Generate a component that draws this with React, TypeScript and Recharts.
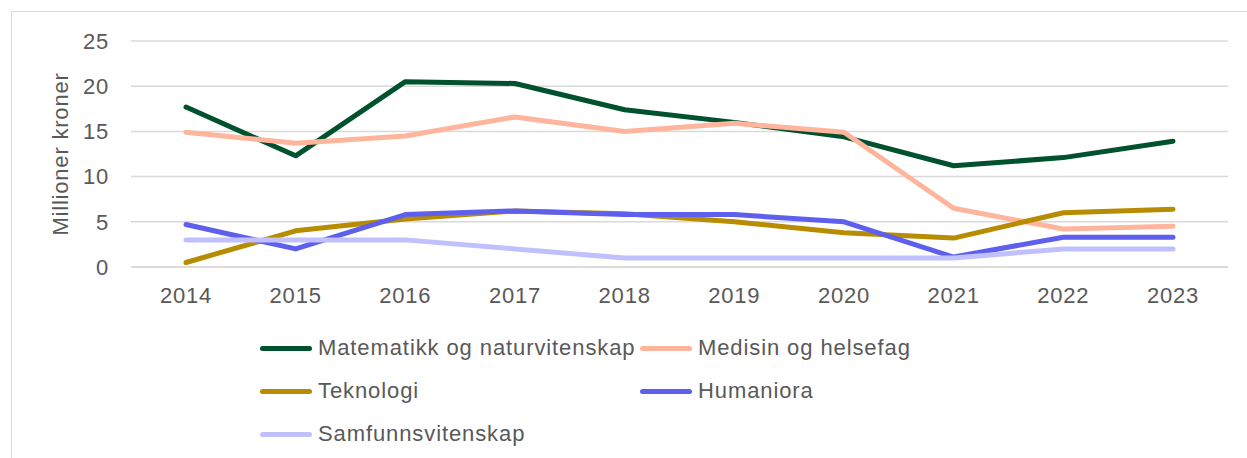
import { LineChart, Line, XAxis, YAxis, CartesianGrid, Legend } from 'recharts'

const years = ['2014', '2015', '2016', '2017', '2018', '2019', '2020', '2021', '2022', '2023']

const matematikk = [17.7, 12.3, 20.5, 20.3, 17.4, 16.0, 14.4, 11.2, 12.1, 13.9]
const medisin = [14.9, 13.7, 14.5, 16.6, 15.0, 15.9, 14.9, 6.5, 4.2, 4.5]
const teknologi = [0.5, 4.0, 5.3, 6.2, 5.9, 5.0, 3.8, 3.2, 6.0, 6.4]
const humaniora = [4.7, 2.0, 5.8, 6.2, 5.8, 5.8, 5.0, 1.1, 3.3, 3.3]
const samfunn = [3.0, 3.0, 3.0, 2.0, 1.0, 1.0, 1.0, 1.0, 2.0, 2.0]

const yTicks = [0, 5, 10, 15, 20, 25]

const series = [
  { key: 'mat', name: 'Matematikk og naturvitenskap', color: '#00512D', values: matematikk },
  { key: 'med', name: 'Medisin og helsefag', color: '#FFB49C', values: medisin },
  { key: 'tek', name: 'Teknologi', color: '#B88C00', values: teknologi },
  { key: 'hum', name: 'Humaniora', color: '#5F5FEE', values: humaniora },
  { key: 'sam', name: 'Samfunnsvitenskap', color: '#C0C0FF', values: samfunn },
]

const data = years.map((year, i) => {
  const row: Record<string, string | number> = { year }
  series.forEach((s) => {
    row[s.key] = s.values[i]
  })
  return row
})

const FONT = '"Liberation Sans", Arial, sans-serif'
const TEXT = '#595959'
const tickStyle = { fill: TEXT, fontSize: 22, fontFamily: FONT, letterSpacing: 0.8 }

function LegendBox() {
  return (
    <div
      style={{
        display: 'grid',
        gridTemplateColumns: '380px 380px',
        rowGap: 15,
        fontFamily: FONT,
        fontSize: 22,
        letterSpacing: 0.9,
        color: TEXT,
      }}
    >
      {series.map((s) => (
        <div key={s.key} style={{ display: 'flex', alignItems: 'center', height: 28 }}>
          <span
            style={{
              display: 'inline-block',
              width: 52,
              height: 5,
              borderRadius: 3,
              background: s.color,
              marginRight: 6,
            }}
          />
          <span style={{ whiteSpace: 'nowrap' }}>{s.name}</span>
        </div>
      ))}
    </div>
  )
}

export default function App() {
  return (
    <div style={{ position: 'fixed', left: 0, top: 0, width: 1247, height: 458, background: '#fff', overflow: 'hidden' }}>
      <div
        style={{
          position: 'absolute',
          left: 11,
          top: 11,
          width: 1260,
          height: 470,
          border: '1px solid #d9d9d9',
        }}
      />
      <LineChart
        width={1247}
        height={458}
        data={data}
        margin={{ top: 41, right: 19, bottom: 161, left: 0 }}
        style={{ position: 'absolute', left: 0, top: 0 }}
      >
        <CartesianGrid vertical={false} stroke="#d9d9d9" strokeWidth={1.5} />
        <XAxis
          dataKey="year"
          height={30}
          padding={{ left: 55, right: 55 }}
          axisLine={{ stroke: '#d9d9d9', strokeWidth: 1.5 }}
          tickLine={false}
          tickSize={0}
          tickMargin={20}
          tick={tickStyle}
          interval={0}
        />
        <YAxis
          width={131}
          domain={[0, 25]}
          ticks={yTicks}
          axisLine={false}
          tickLine={false}
          tickSize={0}
          tickMargin={22}
          tick={tickStyle}
          label={{
            value: 'Millioner kroner',
            angle: -90,
            position: 'insideLeft',
            offset: 60,
            style: { fill: TEXT, fontSize: 22, fontFamily: FONT, letterSpacing: 0.8, textAnchor: 'middle' },
          }}
        />
        <Legend
          layout="vertical"
          align="center"
          verticalAlign="middle"
          content={() => <LegendBox />}
          wrapperStyle={{ position: 'absolute', left: 260, top: 334, width: 800 }}
        />
        {series.map((s) => (
          <Line
            key={s.key}
            dataKey={s.key}
            name={s.name}
            stroke={s.color}
            strokeWidth={5}
            strokeLinejoin="round"
            strokeLinecap="round"
            dot={false}
            activeDot={false}
            isAnimationActive={false}
          />
        ))}
      </LineChart>
    </div>
  )
}
